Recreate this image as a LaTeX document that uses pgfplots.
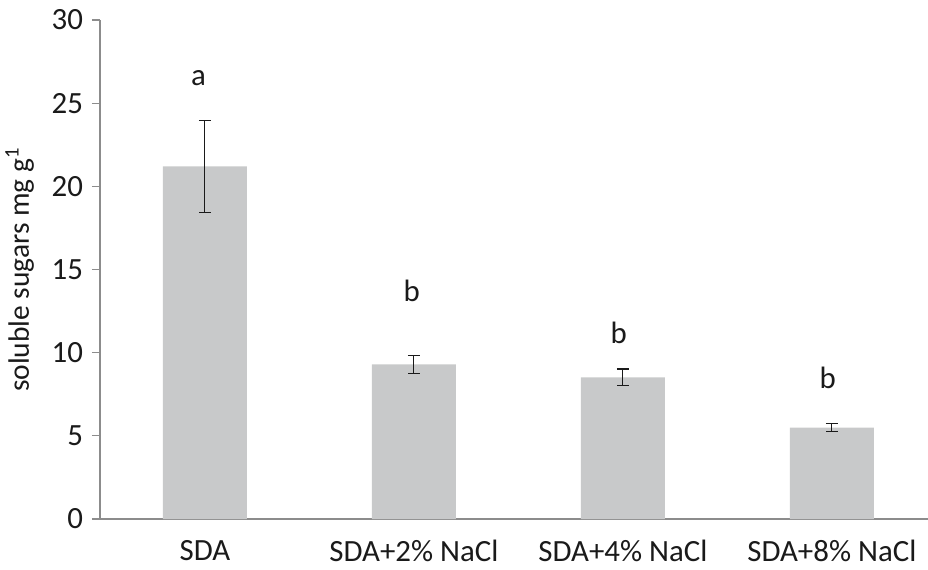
\documentclass[border=0pt]{standalone}
\usepackage{pgfplots}
\pgfplotsset{compat=1.18}
\usepackage{fontspec}
\setmainfont{Carlito}
\definecolor{barfill}{HTML}{C8C9CA}
\definecolor{axgray}{HTML}{8C8C8C}
\definecolor{txt}{HTML}{1A1A1A}
\begin{document}
\begin{tikzpicture}
\begin{axis}[
  at={(0,0)}, anchor=south west,
  scale only axis,
  width=414bp, height=249.5bp,
  xmin=-0.502, xmax=3.46,
  ymin=0, ymax=30,
  ytick={0,5,10,15,20,25,30},
  xtick={0,1,2,3},
  xticklabels={SDA, SDA+2\% NaCl, SDA+4\% NaCl, SDA+8\% NaCl},
  x tick style={draw=none},
  extra x ticks={-0.5,0.5,1.5,2.5},
  extra x tick labels={},
  extra x tick style={tick style={draw=axgray, line width=0.6pt}},
  major tick length=4bp,
  tick align=outside,
  y tick style={draw=axgray, line width=0.6pt},
  axis x line*=bottom,
  axis y line*=left,
  axis line style={draw=axgray, line width=0.6pt, -},
  tick label style={font=\fontsize{15.5}{17}\selectfont, text=txt},
  /pgf/number format/assume math mode=true,
  yticklabel style={xshift=-1bp},
  xticklabel style={yshift=-3bp},
  ylabel={soluble sugars mg g\textsuperscript{1}},
  ylabel style={at={(axis description cs:-0.097,0.5)}, anchor=center, font=\fontsize{14.8}{16}\selectfont, text=txt},
  clip=false,
]
\addplot[ybar, bar width=42bp, fill=barfill, draw=none,
  error bars/.cd, y dir=both, y explicit,
  error bar style={txt, line width=0.55pt},
  error mark options={rotate=90, mark size=3bp, line width=0.55pt, txt}]
  table[x=x, y=y, y error=e] {
x y e
0 21.2 2.75
1 9.30 0.53
2 8.52 0.50
3 5.49 0.25
};
\node[anchor=base, text=txt, font=\fontsize{15.5}{17}\selectfont] at (axis cs:-0.03,26.04) {a};
\node[anchor=base, text=txt, font=\fontsize{15.5}{17}\selectfont] at (axis cs:0.99,13.05) {b};
\node[anchor=base, text=txt, font=\fontsize{15.5}{17}\selectfont] at (axis cs:1.98,10.58) {b};
\node[anchor=base, text=txt, font=\fontsize{15.5}{17}\selectfont] at (axis cs:2.98,7.82) {b};
\end{axis}
\pgfresetboundingbox
\useasboundingbox (-50bp,-25.5bp) rectangle (414bp,259.5bp);
\end{tikzpicture}
\end{document}
